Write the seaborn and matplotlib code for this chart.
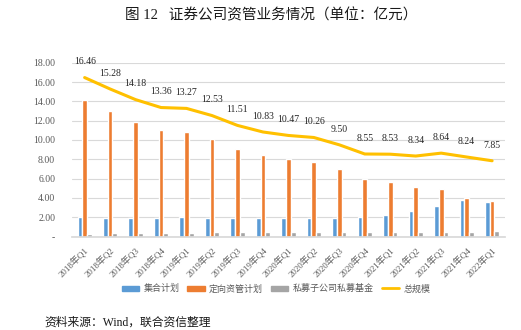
import matplotlib
matplotlib.use("Agg")
import matplotlib.pyplot as plt
import seaborn as sns
import pandas as pd
from matplotlib.patches import Patch
from matplotlib.lines import Line2D

quarters = ["2018年Q1", "2018年Q2", "2018年Q3", "2018年Q4", "2019年Q1", "2019年Q2", "2019年Q3", "2019年Q4",
            "2020年Q1", "2020年Q2", "2020年Q3", "2020年Q4", "2021年Q1", "2021年Q2", "2021年Q3", "2021年Q4", "2022年Q1"]
collective = [2.05, 1.90, 1.90, 1.90, 2.00, 1.90, 1.90, 1.95, 1.96, 1.96, 1.96, 2.07, 2.27, 2.62, 3.20, 3.80, 3.56]
directional = [14.10, 13.00, 11.90, 11.00, 10.80, 10.15, 9.10, 8.40, 8.00, 7.75, 7.00, 5.94, 5.70, 5.17, 4.90, 4.03, 3.72]
private_fund = [0.32, 0.35, 0.36, 0.40, 0.42, 0.45, 0.45, 0.46, 0.48, 0.50, 0.50, 0.52, 0.52, 0.52, 0.52, 0.50, 0.55]
total = [16.46, 15.28, 14.18, 13.36, 13.27, 12.53, 11.51, 10.83, 10.47, 10.26, 9.50, 8.55, 8.53, 8.34, 8.64, 8.24, 7.85]
series_names = ["集合计划", "定向资管计划", "私募子公司私募基金", "总规模"]
yticks = [0, 2, 4, 6, 8, 10, 12, 14, 16, 18]

colors = ["#5B9BD5", "#ED7D31", "#A5A5A5", "#FFC000"]

sns.set_theme(style="white")
plt.rcParams["font.family"] = ["Liberation Serif", "Noto Sans CJK SC", "DejaVu Sans"]

rows = []
for i, q in enumerate(quarters):
    rows.append((q, series_names[0], collective[i]))
    rows.append((q, series_names[1], directional[i]))
    rows.append((q, series_names[2], private_fund[i]))
df = pd.DataFrame(rows, columns=["q", "s", "v"])

fig = plt.figure(figsize=(5.21, 3.30), dpi=100)
ax = fig.add_axes([0.138, 0.283, 0.831, 0.527])

sns.barplot(data=df, x="q", y="v", hue="s", order=quarters, hue_order=series_names[:3],
            palette=colors[:3], width=0.56, gap=0.0, ax=ax, legend=False, saturation=1)
line_df = pd.DataFrame({"q": quarters, "v": total})
sns.lineplot(data=line_df, x="q", y="v", color=colors[3], linewidth=2.2, ax=ax, sort=False)

for i, v in enumerate(total):
    ax.annotate(f"{v:.2f}", (i, v), xytext=(0, 8), textcoords="offset points",
                ha="center", va="bottom", fontsize=7, color="#262626")

ax.set_xlim(-0.5, len(quarters) - 0.5)
ax.set_ylim(0, 18)
ax.set_yticks(yticks)
ax.set_yticklabels(["-"] + [f"{t:.2f}" for t in yticks[1:]], fontsize=7, color="#595959")
ax.set_xticks(range(len(quarters)))
ax.set_xticklabels(quarters, rotation=45, ha="right", rotation_mode="anchor", fontsize=6.5, color="#595959")
ax.set_xlabel("")
ax.set_ylabel("")
ax.yaxis.grid(True, color="#D9D9D9", linewidth=0.8)
ax.set_axisbelow(True)
for s in ["top", "right", "left"]:
    ax.spines[s].set_visible(False)
ax.spines["bottom"].set_color("#D9D9D9")
ax.tick_params(axis="x", length=0, pad=7)
ax.tick_params(axis="y", length=0, pad=12)

handles = [Patch(color=colors[0]), Patch(color=colors[1]), Patch(color=colors[2]),
           Line2D([0], [0], color=colors[3], linewidth=2)]
fig.legend(handles, series_names, loc="center", bbox_to_anchor=(0.53, 0.125), ncol=4, frameon=False,
           fontsize=6.5, handlelength=1.9, handleheight=0.5, columnspacing=0.9, handletextpad=0.5,
           labelcolor="#595959")

fig.text(0.52, 0.955, "图 12   证券公司资管业务情况（单位：亿元）", ha="center", va="center",
         fontsize=10.5, color="#1a1a1a")
fig.text(0.085, 0.003, "资料来源：Wind，联合资信整理", ha="left", va="bottom", fontsize=8.5, color="#1a1a1a")

fig.savefig("out.png", dpi=100)
